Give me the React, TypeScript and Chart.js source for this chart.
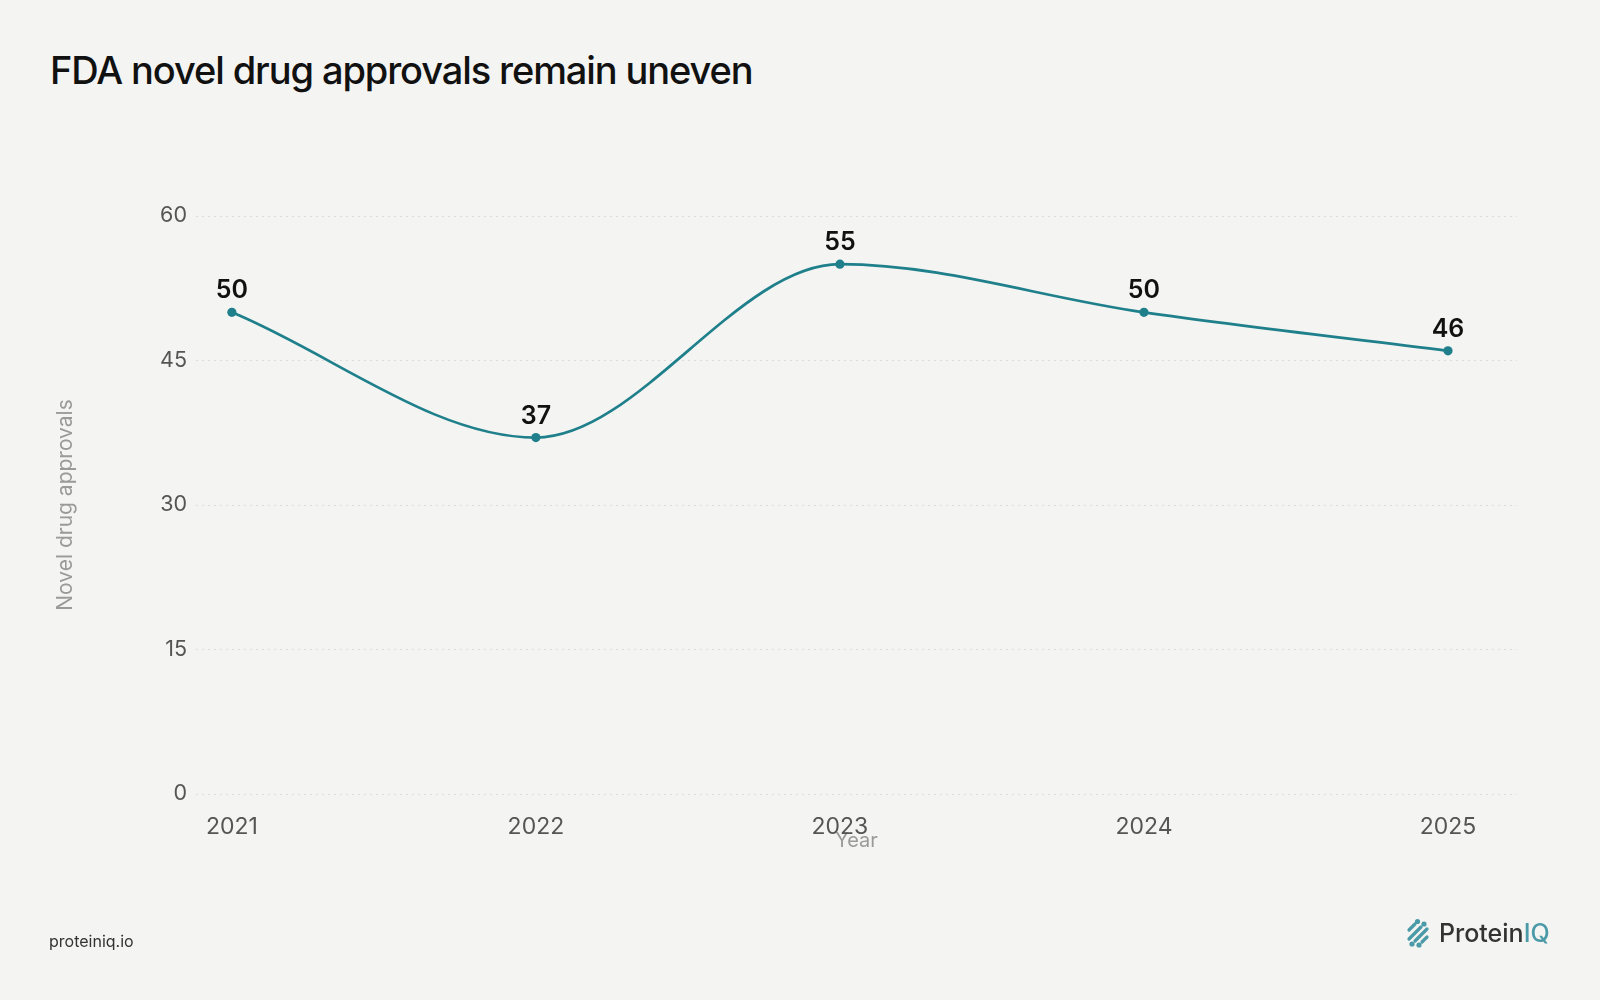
import React, { useEffect, useRef } from "react";
import { Chart, registerables } from "chart.js";

Chart.register(...registerables);

const years = [2021, 2022, 2023, 2024, 2025];
const approvals = [50, 37, 55, 50, 46];
const yTicks = [0, 15, 30, 45, 60];

const TITLE = "FDA novel drug approvals remain uneven";
const Y_TITLE = "Novel drug approvals";
const X_TITLE = "Year";

const BG = "#f4f4f2";
const TEAL = "#1f808c";
const FONT = "Inter, 'Noto Sans', sans-serif";

const dataLabels = {
  id: "dataLabels",
  afterDatasetsDraw(chart: any) {
    const ctx = chart.ctx;
    const meta = chart.getDatasetMeta(0);
    ctx.save();
    ctx.font = `600 25px ${FONT}`;
    ctx.fillStyle = "#111111";
    ctx.textAlign = "center";
    ctx.textBaseline = "alphabetic";
    meta.data.forEach((pt: any, i: number) => {
      ctx.fillText(String(approvals[i]), pt.x, pt.y - 14);
    });
    ctx.restore();
  },
};

export default function App() {
  const ref = useRef<HTMLCanvasElement | null>(null);

  useEffect(() => {
    document.body.style.margin = "0";
    document.body.style.background = BG;
    const chart = new Chart(ref.current as HTMLCanvasElement, {
      type: "line",
      data: {
        datasets: [
          {
            data: years.map((y, i) => ({ x: y, y: approvals[i] })),
            borderColor: TEAL,
            backgroundColor: TEAL,
            borderWidth: 2.7,
            pointRadius: 4.6,
            pointHoverRadius: 4.6,
            pointBackgroundColor: TEAL,
            pointBorderWidth: 0,
            cubicInterpolationMode: "monotone",
            fill: false,
            clip: false as any,
          },
        ],
      },
      options: {
        animation: false,
        responsive: true,
        maintainAspectRatio: false,
        layout: { padding: { left: 0, top: 216, right: 83, bottom: 146 } },
        plugins: { legend: { display: false }, tooltip: { enabled: false } },
        scales: {
          x: {
            type: "linear",
            min: 2020.882,
            max: 2025.227,
            afterBuildTicks: (s: any) => {
              s.ticks = years.map((v) => ({ value: v }));
            },
            afterFit: (s: any) => {
              s.height = 60;
            },
            grid: { display: false, drawTicks: false },
            border: { display: false },
            ticks: {
              padding: 19,
              color: "#555555",
              font: { family: FONT, size: 23 },
              callback: (v: any) => String(v),
              maxRotation: 0,
            },
            title: {
              display: true,
              text: X_TITLE,
              color: "#9a9a9a",
              font: { family: FONT, size: 20 },
              padding: { top: 0, bottom: 1 },
            },
          },
          y: {
            min: 0,
            max: 60,
            afterBuildTicks: (s: any) => {
              s.ticks = yTicks.map((v) => ({ value: v }));
            },
            afterFit: (s: any) => {
              s.width = 196;
            },
            grid: {
              color: "#dcdcda",
              lineWidth: 1,
              drawTicks: false,
            },
            border: { display: false, dash: [2, 4] },
            ticks: {
              padding: 9,
              color: "#555555",
              font: { family: FONT, size: 21.5 },
            },
            title: {
              display: true,
              text: Y_TITLE,
              color: "#9a9a9a",
              font: { family: FONT, size: 21 },
              padding: { top: 53.5, bottom: 0 },
            },
          },
        },
      },
      plugins: [dataLabels],
    } as any);
    return () => chart.destroy();
  }, []);

  return (
    <div
      style={{
        position: "absolute",
        left: 0,
        top: 0,
        width: 1600,
        height: 1000,
        background: BG,
        fontFamily: FONT,
        overflow: "hidden",
      }}
    >
      <div
        style={{
          position: "absolute",
          left: 50,
          top: 50.5,
          fontSize: 38,
          lineHeight: "38px",
          fontWeight: 500,
          color: "#111111",
          letterSpacing: "-1.1px",
          whiteSpace: "nowrap",
        }}
      >
        {TITLE}
      </div>
      <div style={{ position: "absolute", left: 0, top: 0, width: 1600, height: 1000 }}>
        <canvas ref={ref} />
      </div>
      <div
        style={{
          position: "absolute",
          left: 49,
          top: 933,
          fontSize: 16,
          lineHeight: "16px",
          color: "#333333",
          whiteSpace: "nowrap",
        }}
      >
        proteiniq.io
      </div>
      <div
        style={{
          position: "absolute",
          left: 1406,
          top: 918,
          display: "flex",
          alignItems: "center",
          whiteSpace: "nowrap",
        }}
      >
        <svg width="27" height="30" viewBox="0 0 27 30" style={{ marginRight: 6 }}>
          <g stroke="#4a9aa8" strokeWidth="3.2" strokeLinecap="round" fill="#4a9aa8">
            <line x1="3" y1="12" x2="9" y2="6" />
            <circle cx="11.5" cy="3.5" r="2.6" stroke="none" />
            <line x1="3" y1="21" x2="15" y2="9" />
            <circle cx="18" cy="6" r="2.6" stroke="none" />
            <line x1="9" y1="23" x2="21" y2="11" />
            <circle cx="6" cy="26" r="2.6" stroke="none" />
            <line x1="16" y1="24" x2="21" y2="19" />
            <circle cx="13" cy="27" r="2.6" stroke="none" />
          </g>
        </svg>
        <span style={{ fontSize: 25, lineHeight: "25px", fontWeight: 500, color: "#333333" }}>
          Protein
          <span style={{ color: "#4a9aa8" }}>IQ</span>
        </span>
      </div>
    </div>
  );
}
